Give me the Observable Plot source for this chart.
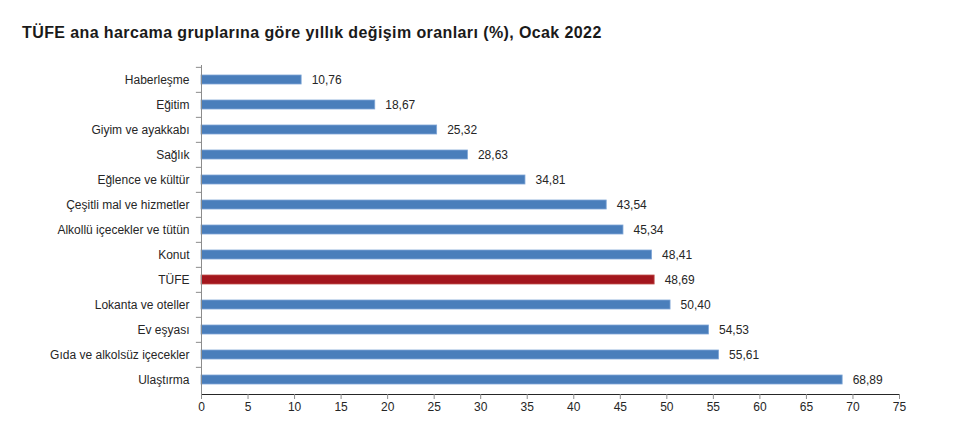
<!DOCTYPE html>
<html>
<head>
<meta charset="utf-8">
<script src="https://cdn.jsdelivr.net/npm/d3@7"></script>
<script src="https://cdn.jsdelivr.net/npm/@observablehq/plot@0.6"></script>
<style>
  html, body { margin: 0; padding: 0; background: #fff; }
  #title {
    height: 56px; box-sizing: border-box; padding: 23px 0 0 22px;
    font: bold 16px "Liberation Sans", Arial, sans-serif; line-height: 20px; color: #1a1a1a;
    letter-spacing: 0.4px;
  }
  #chart svg { display: block; }
</style>
</head>
<body>
<div id="title">TÜFE ana harcama gruplarına göre yıllık değişim oranları (%), Ocak 2022</div>
<div id="chart"></div>
<script>
const categories = [
  "Haberleşme", "Eğitim", "Giyim ve ayakkabı", "Sağlık", "Eğlence ve kültür",
  "Çeşitli mal ve hizmetler", "Alkollü içecekler ve tütün", "Konut", "TÜFE",
  "Lokanta ve oteller", "Ev eşyası", "Gıda ve alkolsüz içecekler", "Ulaştırma"
];
const values = [10.76, 18.67, 25.32, 28.63, 34.81, 43.54, 45.34, 48.41, 48.69, 50.40, 54.53, 55.61, 68.89];
const xTicks = [0, 5, 10, 15, 20, 25, 30, 35, 40, 45, 50, 55, 60, 65, 70, 75];
const highlight = "TÜFE";

const data = categories.map((name, i) => ({name, value: values[i]}));

const H = 381, MT = 9, MB = 43;
const step = (H - MT - MB) / categories.length;
const blue = "#4a7ebb", red = "#a3161d";

const chart = Plot.plot({
  width: 960,
  height: H,
  marginLeft: 201,
  marginRight: 61,
  marginTop: MT,
  marginBottom: MB,
  style: {fontFamily: "'Liberation Sans', Arial, sans-serif", fontSize: "12px", color: "#262626", background: "#fff"},
  x: {domain: [0, 75], ticks: xTicks, label: null, line: true, tickSize: 5, tickPadding: 3},
  y: {domain: categories, padding: 0, label: null, tickSize: 0, tickPadding: 12},
  marks: [
    Plot.barX(data, {
      x: "value", y: "name",
      fill: d => d.name === highlight ? red : blue,
      stroke: d => d.name === highlight ? "#c0504d" : "#7fa6d6",
      strokeWidth: 0.8,
      insetTop: 8, insetBottom: 8
    }),
    Plot.ruleX([0], {stroke: "#8c8c8c"}),
    Plot.ruleY(categories, {y: d => d, x1: -0.55, x2: 0, dy: -step / 2, stroke: "#8c8c8c"}),
    Plot.text(data, {
      x: "value", y: "name",
      text: d => d.value.toFixed(2).replace(".", ","),
      textAnchor: "start", dx: 10, fill: "#262626", fontSize: 12
    })
  ]
});
chart.querySelectorAll("[aria-label='x-axis tick'], [aria-label='x-axis domain']").forEach(g => g.setAttribute("stroke", "#8c8c8c"));
document.getElementById("chart").appendChild(chart);
</script>
</body>
</html>
